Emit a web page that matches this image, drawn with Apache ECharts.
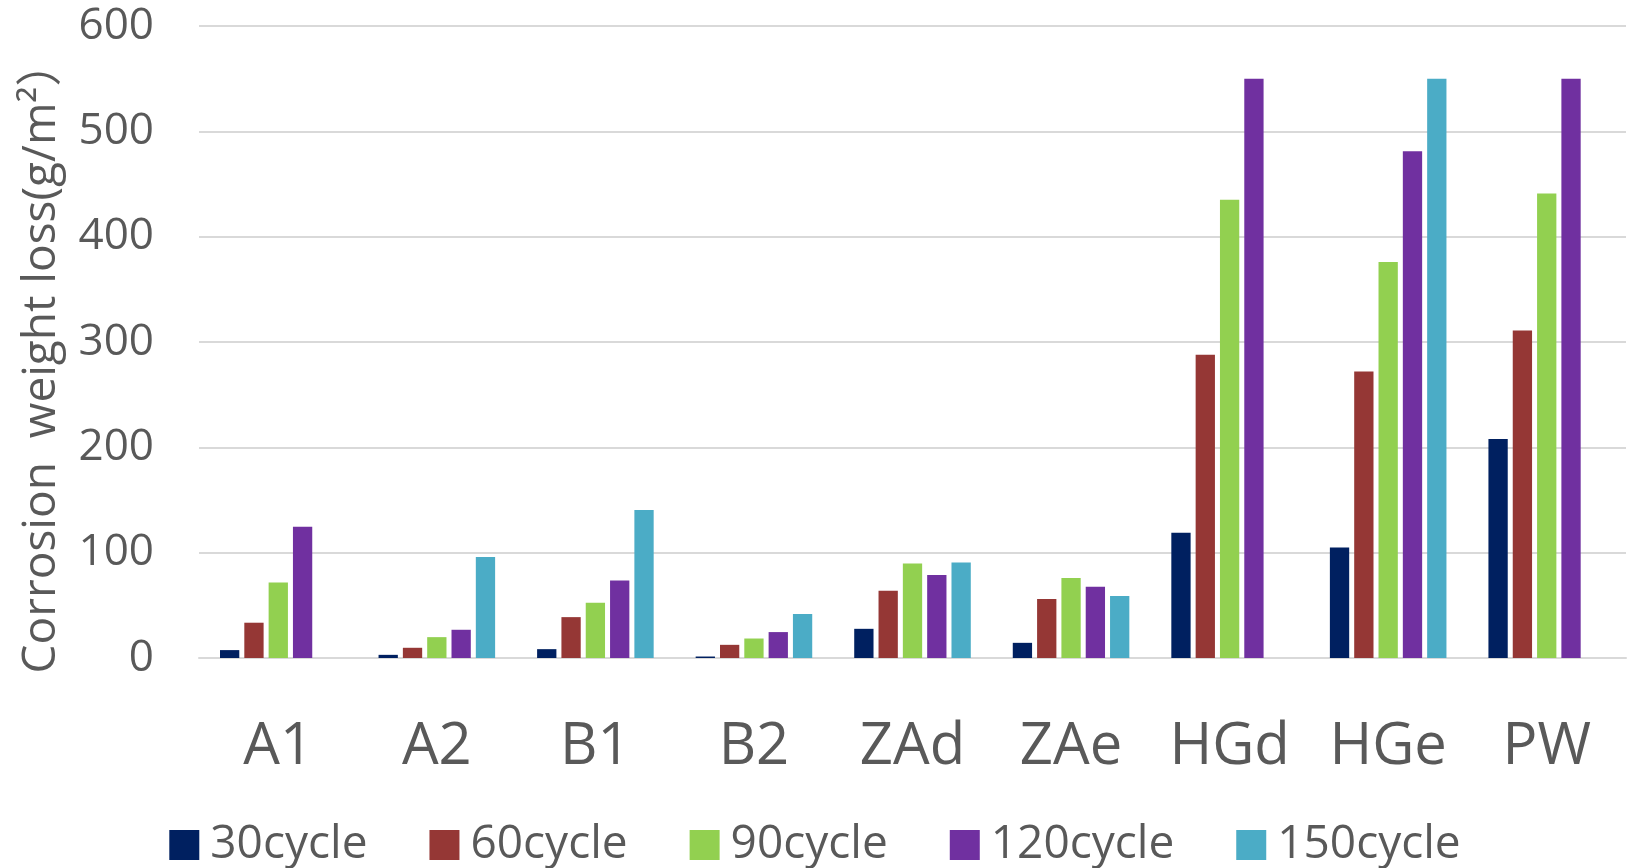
<!DOCTYPE html>
<html>
<head>
<meta charset="utf-8">
<script src="https://cdn.jsdelivr.net/npm/echarts@6/dist/echarts.min.js"></script>
<style>
html,body{margin:0;padding:0;background:#fff;}
#chart{width:1630px;height:868px;}
</style>
</head>
<body>
<div id="chart"></div>
<script>
const categories = ['A1','A2','B1','B2','ZAd','ZAe','HGd','HGe','PW'];
const seriesNames = ['30cycle','60cycle','90cycle','120cycle','150cycle'];
const cycle30  = [7.5, 3, 8.4, 1.4, 27.7, 14.4, 119, 105, 208];
const cycle60  = [33.5, 9.7, 38.8, 12.5, 63.8, 55.9, 288, 272, 311];
const cycle90  = [71.7, 19.8, 52.4, 18.5, 89.7, 75.9, 435, 376, 441];
const cycle120 = [124.6, 26.8, 73.6, 24.6, 78.7, 67.6, 550, 481, 550];
const cycle150 = [null, 95.8, 140.4, 41.7, 90.7, 58.8, null, 550, null];
const colors = ['#002060','#953735','#92D050','#7030A0','#4BACC6'];
const yTicks = {min:0, max:600, interval:100};

const allData = [cycle30, cycle60, cycle90, cycle120, cycle150];
const textColor = '#595959';
const font = '"Open Sans", "Noto Sans", sans-serif';

const chart = echarts.init(document.getElementById('chart'), null, {renderer:'canvas'});
chart.setOption({
  animation:false,
  color: colors,
  grid:{left:199, right:4, top:26, bottom:210, containLabel:false},
  legend:{
    data: seriesNames,
    bottom: 0,
    padding:[0,5,0,5],
    left:'center',
    itemWidth:30, itemHeight:30, itemGap:62,
    icon:'rect',
    textStyle:{fontSize:46, color:textColor, fontFamily:font, padding:[0,0,0,6]}
  },
  xAxis:{
    type:'category',
    data: categories,
    axisLine:{show:true, lineStyle:{color:'#D9D9D9', width:2}},
    axisTick:{show:false},
    axisLabel:{interval:0, fontSize:58, color:textColor, fontFamily:font, margin:60}
  },
  yAxis:{
    type:'value',
    min:yTicks.min, max:yTicks.max, interval:yTicks.interval,
    name:'Corrosion  weight loss(g/m²）',
    nameLocation:'middle',
    nameGap:134,
    nameTextStyle:{fontSize:46, color:textColor, fontFamily:'"Open Sans", "Noto Sans CJK SC", sans-serif', padding:[0,30,0,0]},
    axisLine:{show:false},
    axisTick:{show:false},
    axisLabel:{fontSize:44, color:textColor, fontFamily:font, margin:45},
    splitLine:{lineStyle:{color:'#D9D9D9', width:2}}
  },
  series: seriesNames.map((n,i)=>({
    name:n,
    type:'bar',
    data: allData[i],
    barWidth:19.3,
    barGap:'26%',
    itemStyle:{color:colors[i]}
  }))
});
</script>
</body>
</html>
